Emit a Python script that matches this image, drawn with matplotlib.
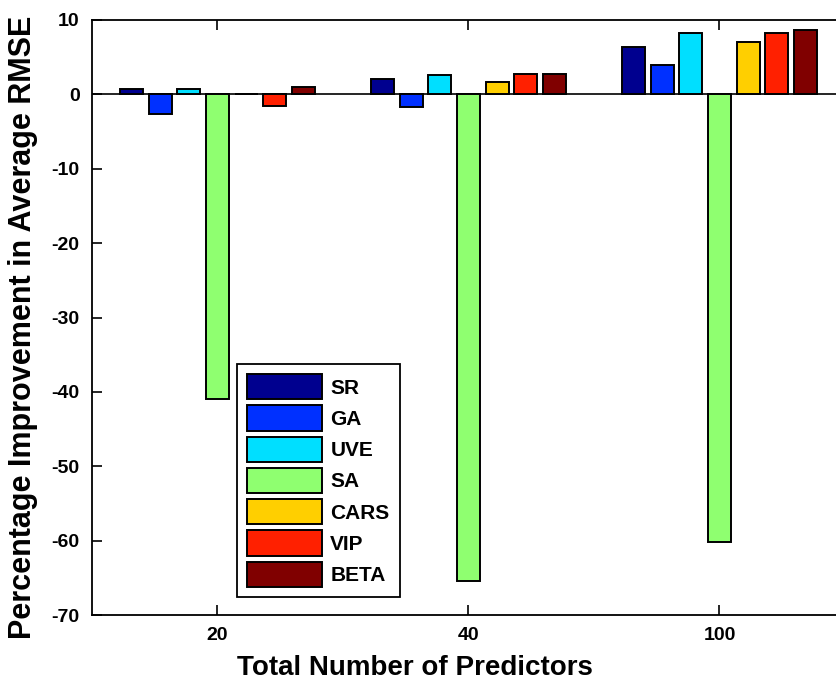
import matplotlib
matplotlib.use('Agg')
import matplotlib.pyplot as plt
import numpy as np

# predictor-count groups and selection methods
groups = ['20', '40', '100']
methods = ['SR', 'GA', 'UVE', 'SA', 'CARS', 'VIP', 'BETA']
colors = ['#00008F', '#0030FF', '#00DFFF', '#8FFF70', '#FFCF00', '#FF2000', '#800000']

# percentage improvement in average RMSE, one list per method (order: 20, 40, 100)
sr = [0.75, 2.1, 6.4]
ga = [-2.6, -1.7, 4.0]
uve = [0.75, 2.6, 8.2]
sa = [-41.0, -65.4, -60.2]
cars = [0.0, 1.65, 7.0]
vip = [-1.5, 2.8, 8.2]
beta = [1.0, 2.8, 8.65]
series = [sr, ga, uve, sa, cars, vip, beta]

plt.rcParams['font.family'] = ['Liberation Sans', 'DejaVu Sans']
plt.rcParams['font.weight'] = 'bold'
plt.rcParams['axes.unicode_minus'] = False

fig = plt.figure(figsize=(8.36, 6.88), dpi=100)
# axes runs slightly past the right edge of the figure
ax = fig.add_axes([92 / 836, 1 - 615 / 688, 753 / 836, 595 / 688])

x = np.arange(1, len(groups) + 1)
n = len(series)
group_w = min(0.8, n / (n + 1.5))
pitch = group_w / n
for i, (vals, name, col) in enumerate(zip(series, methods, colors)):
    offs = (i - (n - 1) / 2) * pitch
    ax.bar(x + offs, vals, width=pitch * 0.8, color=col, edgecolor='black',
           linewidth=1.4, label=name, zorder=3)

ax.axhline(0, color='black', linewidth=1.2, zorder=2)

ax.set_xlim(0.5, 3.5)
ax.set_ylim(-70, 10)
ax.set_yticks(np.arange(-70, 11, 10))
ax.set_xticks(x)
ax.set_xticklabels(groups)
ax.tick_params(direction='in', length=7, width=1.2, labelsize=14,
               top=True, right=False, pad=9)
for lbl in ax.get_xticklabels() + ax.get_yticklabels():
    lbl.set_fontweight('bold')
for sp in ax.spines.values():
    sp.set_linewidth(1.3)

ax.set_xlabel('Total Number of Predictors', fontsize=20, fontweight='bold')
ax.set_ylabel('Percentage Improvement in Average RMSE', fontsize=22, fontweight='bold')
ax.xaxis.set_label_coords(0.429, -0.068)
ax.yaxis.set_label_coords(-0.072, 0.484)

leg = ax.legend(loc='upper left', bbox_to_anchor=(0.192, 0.4225), borderaxespad=0,
                fontsize=15, handlelength=3.6, handleheight=1.5, labelspacing=0.28,
                handletextpad=0.4, borderpad=0.5, fancybox=False, framealpha=1,
                edgecolor='black')
leg.get_frame().set_linewidth(1.3)
for t in leg.get_texts():
    t.set_fontweight('bold')

fig.savefig('out.png', dpi=100)
